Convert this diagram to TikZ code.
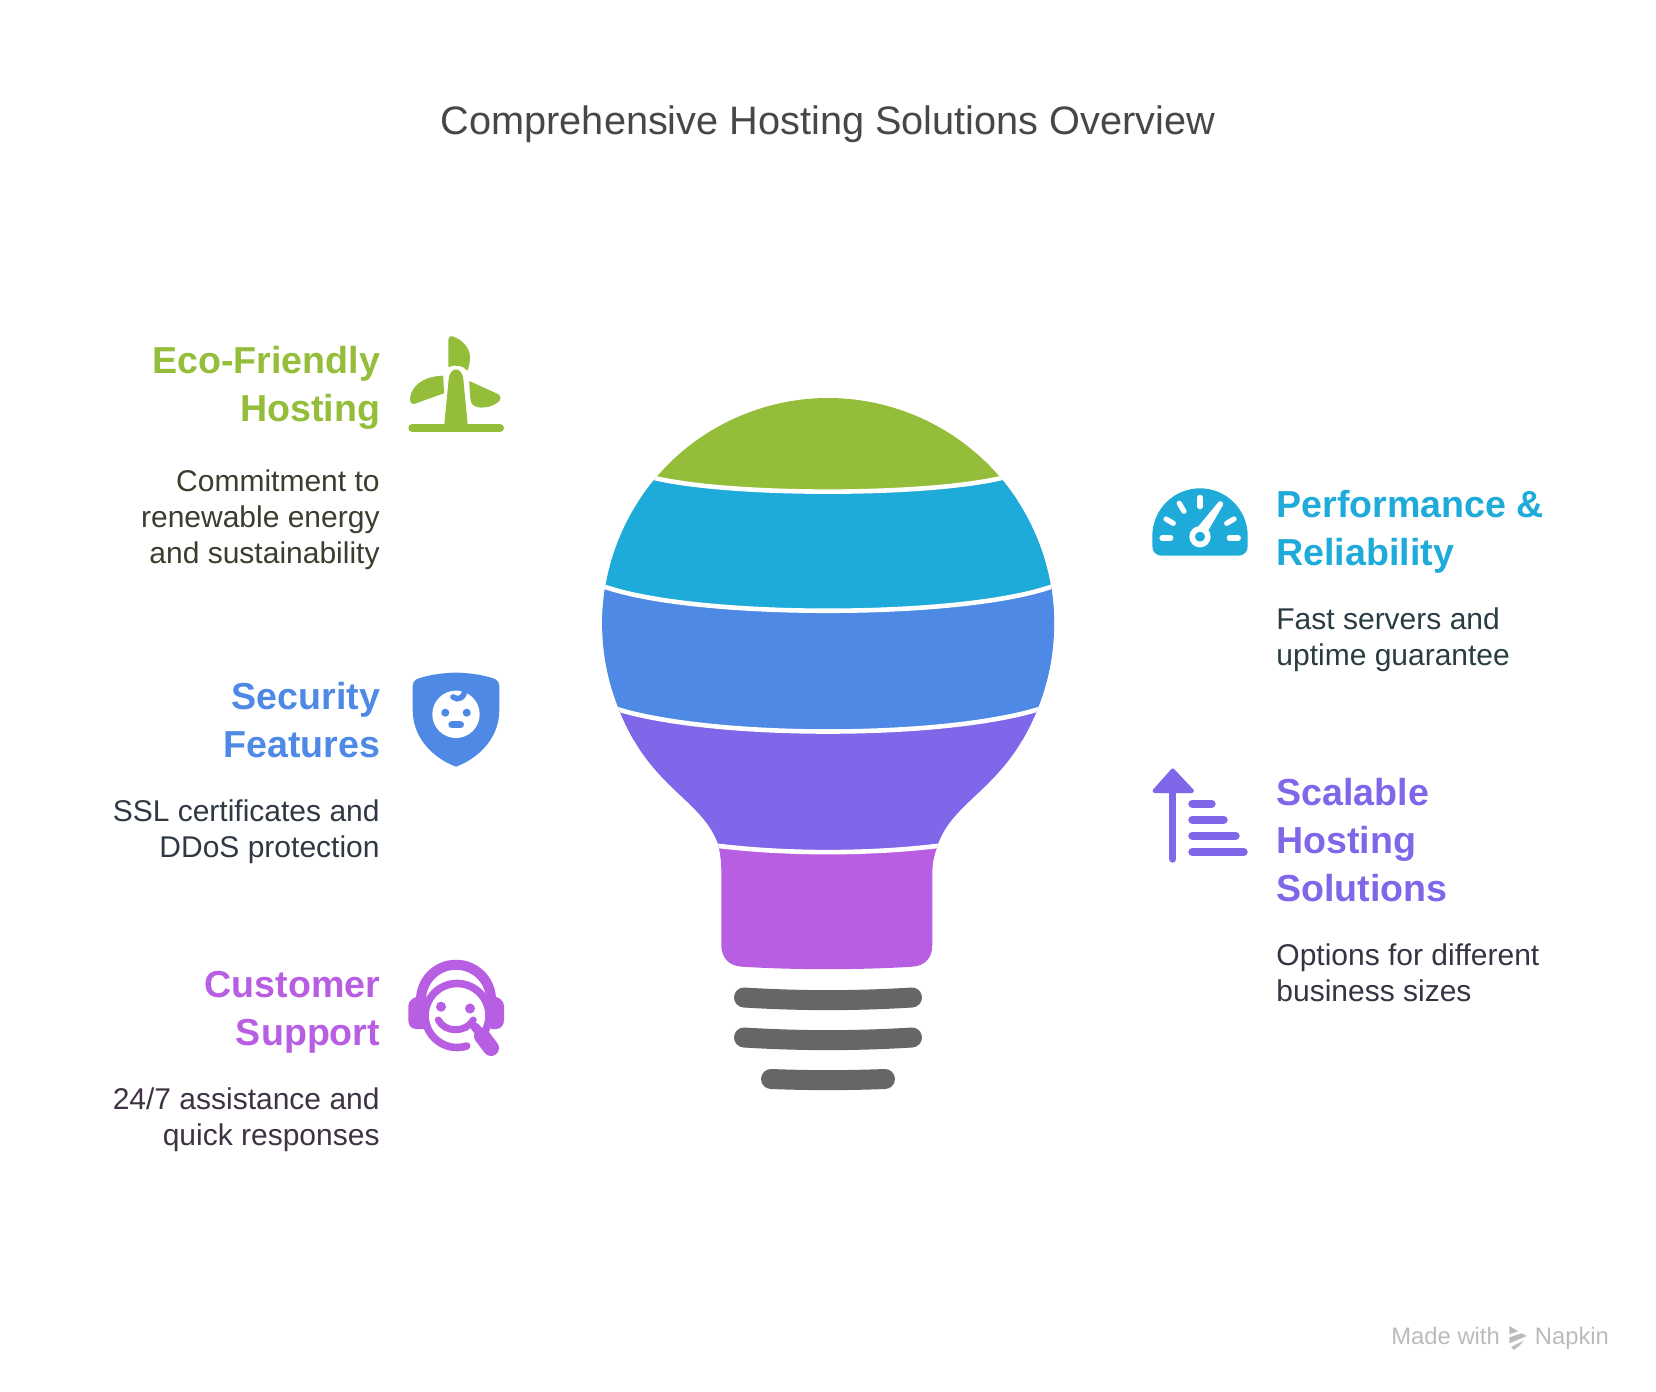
\documentclass[tikz,border=0pt]{standalone}
\usepackage{fontspec}
\setmainfont{Liberation Sans}
\usetikzlibrary{positioning}
\definecolor{ecogreen}{HTML}{94BD39}
\definecolor{perfcyan}{HTML}{1EABDA}
\definecolor{secblue}{HTML}{4D89E5}
\definecolor{scalepurple}{HTML}{8066E8}
\definecolor{supportpink}{HTML}{B85EE3}
\definecolor{screwgray}{HTML}{666666}
\definecolor{napkingray}{HTML}{BBBBBB}
\tikzstyle{headleft} = [anchor=north east, align=right, inner sep=0, font=\fontsize{18.8}{24}\selectfont\bfseries]
\tikzstyle{headright} = [anchor=north west, align=left, inner sep=0, font=\fontsize{18.8}{24}\selectfont\bfseries]
\tikzstyle{descleft} = [anchor=north east, align=right, inner sep=0, font=\fontsize{15}{18}\selectfont]
\tikzstyle{descright} = [anchor=north west, align=left, inner sep=0, font=\fontsize{15}{18}\selectfont]
\tikzstyle{screw} = [draw=screwgray, line width=10pt, line cap=round]
\tikzstyle{gap} = [draw=white, line width=2.3pt]
\tikzstyle{tick} = [draw=white, line width=2.6pt, line cap=round]
\tikzstyle{rung} = [draw=scalepurple, line width=4pt, line cap=round]
\tikzstyle{pinkline} = [draw=supportpink, line cap=round]
\begin{document}
\begin{tikzpicture}[x=.5pt, y=-.5pt]
\useasboundingbox (0,0) rectangle (1656,1392);
\node [font=\fontsize{19.85}{24}\selectfont, text=black!72] (title) at (828,124) {Comprehensive Hosting Solutions Overview};

% bulb
\begin{scope}
\clip (620,712) arc [start angle=157.1, end angle=382.9, radius=226]
  .. controls (1020,750) and (1003,770) .. (975,796)
  .. controls (957,813) and (945,825) .. (938,844)
  .. controls (934,855) and (932.3,862) .. (932.3,875) -- (932.3,945)
  .. controls (932.3,958) and (925,966) .. (912,966.7)
  .. controls (860,970) and (794,970) .. (742,966.7)
  .. controls (729,966) and (721.3,958) .. (721.3,945) -- (721.3,875)
  .. controls (721.3,862) and (721,855) .. (718,844)
  .. controls (711,825) and (699,813) .. (681,796)
  .. controls (653,770) and (636,750) .. (620,712) -- cycle;
\fill [ecogreen] (590,380) rectangle (1070,500);
\fill [perfcyan] (590,450) -- (640,474) .. controls (710,497.5) and (946,497.5) .. (1016,474) -- (1070,450) -- (1070,620) -- (590,620) -- cycle;
\fill [secblue] (570,570) -- (595,583) .. controls (680,620) and (976,620) .. (1061,583) -- (1086,570) -- (1086,740) -- (570,740) -- cycle;
\fill [scalepurple] (570,690) -- (600,703) .. controls (690,741) and (966,741) .. (1056,703) -- (1086,690) -- (1086,860) -- (570,860) -- cycle;
\fill [supportpink] (690,840) -- (700,843.5) .. controls (780,855) and (876,855) .. (956,843.5) -- (966,840) -- (966,980) -- (690,980) -- cycle;
\draw [gap] (640,474) .. controls (710,497.5) and (946,497.5) .. (1016,474);
\draw [gap] (595,583) .. controls (680,620) and (976,620) .. (1061,583);
\draw [gap] (600,703) .. controls (690,741) and (966,741) .. (1056,703);
\draw [gap] (700,843.5) .. controls (780,855) and (876,855) .. (956,843.5);
\end{scope}
\draw [screw] (744,997.5) .. controls (800,1001) and (856,1001) .. (912,997.5);
\draw [screw] (744,1037.5) .. controls (800,1041) and (856,1041) .. (912,1037.5);
\draw [screw] (771,1079) .. controls (810,1080.5) and (846,1080.5) .. (885,1079);

% eco icon
\draw [draw=ecogreen, line width=4pt, line cap=round] (412.3,428) -- (500,428);
\fill [ecogreen] (444,428) -- (448.5,381) .. controls (449,373) and (452,369.5) .. (456,369.5)
  .. controls (460,369.5) and (463,373) .. (463.5,381) -- (468,428) -- cycle;
\fill [ecogreen] (448.3,340) .. controls (448.3,337) and (450,335.7) .. (452,336.2)
  .. controls (462,339) and (470,348) .. (470,357) .. controls (470,362) and (469,367) .. (467.3,370.7)
  .. controls (463,365) and (455,364.5) .. (448.3,367) -- cycle;
\fill [ecogreen] (443.3,376.7) -- (444,393.3) -- (414,404) .. controls (411.5,404.5) and (410,402.5) .. (410,400)
  .. controls (410,387) and (422,377) .. (441,375.7) .. controls (442.5,375.6) and (443.2,375.8) .. (443.3,376.7) -- cycle;
\fill [ecogreen] (469.3,381) -- (499,394.5) .. controls (501,396) and (501,399) .. (499,401.5)
  .. controls (492,408) and (477,410) .. (472,404) .. controls (470,401) and (470,395) .. (469.3,381) -- cycle;

% shield icon
\fill [secblue] (456,672.7) .. controls (440,672.7) and (425,676) .. (417,679)
  .. controls (414,680) and (412.7,683) .. (412.7,686) -- (412.7,710)
  .. controls (412.7,738) and (433,758) .. (456,766.7)
  .. controls (479,758) and (499.3,738) .. (499.3,710) -- (499.3,686)
  .. controls (499.3,683) and (498,680) .. (495,679)
  .. controls (487,676) and (472,672.7) .. (456,672.7) -- cycle;
\fill [white] (456,714.3) circle [radius=23.7];
\draw [draw=secblue, line width=2.8pt, line cap=round] (453,697) .. controls (458,701) and (465,698) .. (465,688);
\fill [secblue] (445.3,712.7) circle [radius=4];
\fill [secblue] (466.7,712.7) circle [radius=4];
\draw [draw=secblue, line width=3.7pt, line cap=round] (452,724.7) -- (460.3,724.7);

% support icon
\draw [pinkline, line width=5pt, line cap=butt] (421.8,1007) arc [start angle=168, end angle=372, radius=35];
\fill [supportpink] (424,996) -- (424,1029) -- (416,1029) .. controls (411,1029) and (408.3,1025) .. (408.3,1020) -- (408.3,1006)
  .. controls (408.3,1001) and (413,996) .. (424,996) -- cycle;
\fill [supportpink] (491,996) -- (491,1029) -- (496,1029) .. controls (501,1029) and (504,1025) .. (504,1020) -- (504,1006)
  .. controls (504,1001) and (499,996) .. (491,996) -- cycle;
\draw [pinkline, line width=3.8pt] (466.7,1046) arc [start angle=72.5, end angle=390, radius=32];
\fill [supportpink] (441,1006.7) circle [radius=5];
\fill [supportpink] (470,1008.5) circle [radius=5];
\draw [pinkline, line width=3.5pt] (438.3,1020) .. controls (445,1033) and (466,1033) .. (473.3,1020);
\draw [pinkline, line width=4.5pt] (475,1027) -- (484,1037);
\draw [pinkline, line width=8pt] (482,1036) -- (491,1048);

% gauge icon
\fill [perfcyan] (1152.3,536) arc [start angle=180, end angle=360, radius=47.7] -- (1247.7,546)
  .. controls (1247.7,552) and (1244,555.7) .. (1238,555.7) -- (1162,555.7)
  .. controls (1156,555.7) and (1152.3,552) .. (1152.3,546) -- cycle;
\draw [tick] (1162,538) -- (1170.7,538);
\draw [tick] (1229.3,538) -- (1238.3,538);
\draw [tick] (1166,519) -- (1173.3,523.3);
\draw [tick] (1234,519) -- (1226.7,523.3);
\draw [tick] (1179.3,503.3) -- (1184,511.3);
\draw [tick] (1200,497.3) -- (1200,506.7);
\draw [draw=white, line width=2.8pt] (1200,536.7) circle [radius=7.8];
\fill [white] (1197,528) -- (1218.5,502) .. controls (1220,500) and (1224,502) .. (1223,505) -- (1208,531) -- cycle;

% scale icon
\draw [draw=scalepurple, line width=3.7pt, line cap=round] (1172.7,790) -- (1172.7,859);
\fill [scalepurple, draw=scalepurple, line width=2pt, line join=round] (1172.7,770.5) -- (1192,791) -- (1154.5,791) -- cycle;
\draw [rung] (1192.3,803.7) -- (1211.7,803.7);
\draw [rung] (1192.3,819.7) -- (1223.7,819.7);
\draw [rung] (1192.3,835.7) -- (1235.7,835.7);
\draw [rung] (1192.3,852) -- (1243.7,852);

% texts
\node [headleft, text=ecogreen] (ecohead) at (380.5,346) {Eco-Friendly\\Hosting};
\node [descleft, text=ecogreen!15!black!85] (ecodesc) at (380,469) {Commitment to\\renewable energy\\and sustainability};
\node [headleft, text=secblue] (sechead) at (380.5,682) {Security\\Features};
\node [descleft, text=secblue!15!black!85] (secdesc) at (380,799) {SSL certificates and\\DDoS protection};
\node [headleft, text=supportpink] (supphead) at (380.5,971) {Customer\\Support};
\node [descleft, text=supportpink!15!black!85] (suppdesc) at (380,1087) {24/7 assistance and\\quick responses};
\node [headright, text=perfcyan] (perfhead) at (1276,490) {Performance \&\\Reliability};
\node [descright, text=perfcyan!15!black!85] (perfdesc) at (1276,607) {Fast servers and\\uptime guarantee};
\node [headright, text=scalepurple] (scalehead) at (1276,778) {Scalable\\Hosting\\Solutions};
\node [descright, text=scalepurple!15!black!85] (scaledesc) at (1276,943) {Options for different\\business sizes};

% napkin mark
\node [anchor=base west, inner sep=0, font=\fontsize{11.9}{14}\selectfont, text=napkingray] (made) at (1391,1344) {Made with};
\node [anchor=base west, inner sep=0, font=\fontsize{11.9}{14}\selectfont, text=napkingray] (napkin) at (1534.5,1344) {Napkin};
\fill [napkingray] (1509.3,1326) -- (1518.3,1331.3) -- (1509.3,1334.3) -- cycle;
\fill [napkingray] (1509.3,1337.3) -- (1521.7,1333.3) -- (1526.7,1336) -- (1509.3,1343.3) -- cycle;
\fill [napkingray] (1511,1347) -- (1524,1340.5) -- (1519,1346) -- (1514,1350) -- cycle;
\end{tikzpicture}
\end{document}
